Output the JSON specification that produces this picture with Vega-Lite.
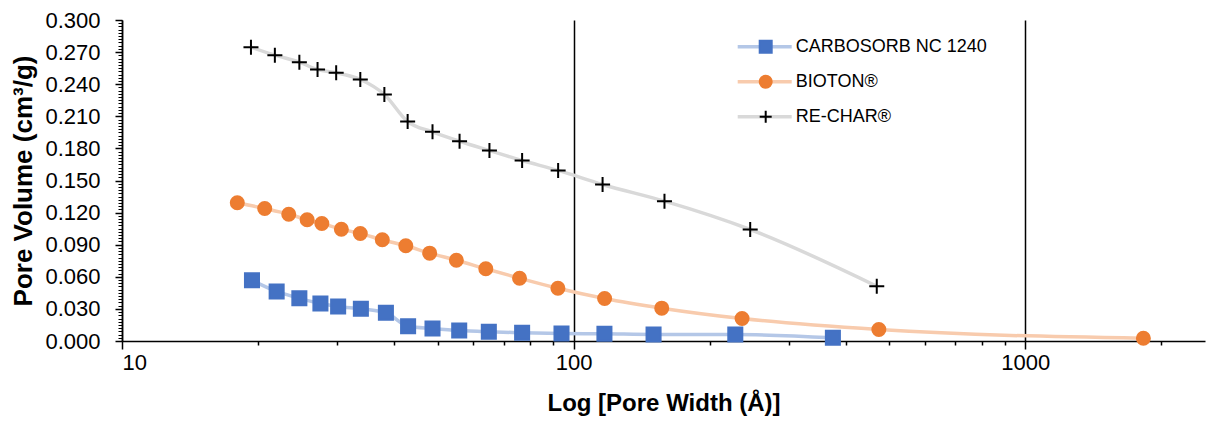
{
  "$schema": "https://vega.github.io/schema/vega-lite/v6.json",
  "width": 1083,
  "height": 321,
  "autosize": {"type": "none"},
  "padding": {"left": 122, "top": 20, "right": 3, "bottom": 80},
  "background": "white",
  "config": {
    "view": {"stroke": null},
    "font": "Liberation Sans",
    "axis": {"labelFont": "Liberation Sans", "titleFont": "Liberation Sans"},
    "legend": {"labelFont": "Liberation Sans"}
  },
  "data": {
    "values": [
      {"series": "CARBOSORB NC 1240", "width": 19.4, "volume": 0.0568},
      {"series": "CARBOSORB NC 1240", "width": 22.0, "volume": 0.0463},
      {"series": "CARBOSORB NC 1240", "width": 24.7, "volume": 0.0400},
      {"series": "CARBOSORB NC 1240", "width": 27.5, "volume": 0.0350},
      {"series": "CARBOSORB NC 1240", "width": 30.1, "volume": 0.0322},
      {"series": "CARBOSORB NC 1240", "width": 33.8, "volume": 0.0301},
      {"series": "CARBOSORB NC 1240", "width": 38.4, "volume": 0.0264},
      {"series": "CARBOSORB NC 1240", "width": 43.0, "volume": 0.0138},
      {"series": "CARBOSORB NC 1240", "width": 48.7, "volume": 0.0117},
      {"series": "CARBOSORB NC 1240", "width": 55.8, "volume": 0.0098},
      {"series": "CARBOSORB NC 1240", "width": 64.9, "volume": 0.0086},
      {"series": "CARBOSORB NC 1240", "width": 76.9, "volume": 0.0077},
      {"series": "CARBOSORB NC 1240", "width": 94.0, "volume": 0.0070},
      {"series": "CARBOSORB NC 1240", "width": 117.0, "volume": 0.0067},
      {"series": "CARBOSORB NC 1240", "width": 150.3, "volume": 0.0061},
      {"series": "CARBOSORB NC 1240", "width": 228, "volume": 0.0061},
      {"series": "CARBOSORB NC 1240", "width": 375, "volume": 0.0030},
      {"series": "BIOTON®", "width": 18.0, "volume": 0.1292},
      {"series": "BIOTON®", "width": 20.7, "volume": 0.1238},
      {"series": "BIOTON®", "width": 23.4, "volume": 0.1185},
      {"series": "BIOTON®", "width": 25.7, "volume": 0.1133},
      {"series": "BIOTON®", "width": 27.7, "volume": 0.1098},
      {"series": "BIOTON®", "width": 30.6, "volume": 0.1045},
      {"series": "BIOTON®", "width": 33.7, "volume": 0.1005},
      {"series": "BIOTON®", "width": 37.7, "volume": 0.0946},
      {"series": "BIOTON®", "width": 42.5, "volume": 0.0890},
      {"series": "BIOTON®", "width": 48.0, "volume": 0.0821},
      {"series": "BIOTON®", "width": 55.0, "volume": 0.0755},
      {"series": "BIOTON®", "width": 63.9, "volume": 0.0675},
      {"series": "BIOTON®", "width": 75.9, "volume": 0.0587},
      {"series": "BIOTON®", "width": 92.3, "volume": 0.0493},
      {"series": "BIOTON®", "width": 117.1, "volume": 0.0397},
      {"series": "BIOTON®", "width": 156.7, "volume": 0.0307},
      {"series": "BIOTON®", "width": 236, "volume": 0.0210},
      {"series": "BIOTON®", "width": 474, "volume": 0.0107},
      {"series": "BIOTON®", "width": 1826, "volume": 0.0026},
      {"series": "RE-CHAR®", "width": 19.3, "volume": 0.2746},
      {"series": "RE-CHAR®", "width": 21.8, "volume": 0.2671},
      {"series": "RE-CHAR®", "width": 24.7, "volume": 0.2606},
      {"series": "RE-CHAR®", "width": 27.1, "volume": 0.2537},
      {"series": "RE-CHAR®", "width": 29.8, "volume": 0.2507},
      {"series": "RE-CHAR®", "width": 33.7, "volume": 0.2444},
      {"series": "RE-CHAR®", "width": 38.1, "volume": 0.2304},
      {"series": "RE-CHAR®", "width": 42.9, "volume": 0.2051},
      {"series": "RE-CHAR®", "width": 48.7, "volume": 0.1955},
      {"series": "RE-CHAR®", "width": 55.9, "volume": 0.1867},
      {"series": "RE-CHAR®", "width": 65.1, "volume": 0.1780},
      {"series": "RE-CHAR®", "width": 76.9, "volume": 0.1687},
      {"series": "RE-CHAR®", "width": 92.4, "volume": 0.1594},
      {"series": "RE-CHAR®", "width": 115.9, "volume": 0.1463},
      {"series": "RE-CHAR®", "width": 158.9, "volume": 0.1307},
      {"series": "RE-CHAR®", "width": 246, "volume": 0.1042},
      {"series": "RE-CHAR®", "width": 469, "volume": 0.0512}
    ]
  },
  "layer": [
    {
      "mark": {"type": "line", "interpolate": "monotone", "strokeWidth": 3.5},
      "encoding": {
        "x": {
          "field": "width", "type": "quantitative",
          "scale": {"type": "log", "domain": [10, 2500], "nice": false},
          "axis": {
            "orient": "bottom", "values": [10, 100, 1000], "format": "d",
            "grid": true, "gridColor": "#000000", "gridWidth": 1.5, "gridOpacity": 1,
            "domainColor": "#000000", "domainWidth": 1.5,
            "tickColor": "#000000", "tickWidth": 1.5, "tickSize": 8,
            "labelFontSize": 22, "labelColor": "#000000", "labelPadding": 3,
            "title": "Log [Pore Width (Å)]", "titleFontSize": 24, "titleFontWeight": "bold",
            "titleColor": "#000000", "titlePadding": 18
          }
        },
        "y": {
          "field": "volume", "type": "quantitative",
          "scale": {"domain": [0, 0.3], "nice": false},
          "axis": {
            "orient": "left", "values": [0, 0.03, 0.06, 0.09, 0.12, 0.15, 0.18, 0.21, 0.24, 0.27, 0.3],
            "format": ".3f", "grid": false,
            "domainColor": "#000000", "domainWidth": 1.5,
            "tickColor": "#000000", "tickWidth": 1.5, "tickSize": 7,
            "labelFontSize": 22, "labelColor": "#000000", "labelPadding": 15,
            "title": "Pore Volume (cm³/g)", "titleFontSize": 26, "titleFontWeight": "bold",
            "titleColor": "#000000", "titlePadding": 8
          }
        },
        "color": {
          "field": "series", "type": "nominal",
          "sort": ["CARBOSORB NC 1240", "BIOTON®", "RE-CHAR®"],
          "scale": {"range": ["#B4C7E7", "#F8CBAD", "#D9D9D9"]},
          "legend": {
            "orient": "none", "legendX": 613.7, "legendY": 17.7, "title": null,
            "labelFontSize": 18, "labelColor": "#000000", "labelOffset": 2, "labelLimit": 400,
            "symbolType": "stroke", "symbolSize": 2916, "symbolStrokeWidth": 3.5,
            "clipHeight": 18, "rowPadding": 17, "padding": 0
          }
        }
      }
    },
    {
      "mark": {"type": "point", "filled": true, "strokeWidth": 2, "opacity": 1},
      "encoding": {
        "x": {
          "field": "width", "type": "quantitative",
          "axis": {
            "orient": "bottom",
            "values": [20, 30, 40, 50, 60, 70, 80, 90, 200, 300, 400, 500, 600, 700, 800, 900, 2000],
            "labels": false, "domain": false, "grid": false,
            "tickColor": "#000000", "tickWidth": 1.5, "tickSize": 4, "title": null
          }
        },
        "y": {
          "field": "volume", "type": "quantitative",
          "axis": {
            "orient": "left",
            "values": [0.003, 0.006, 0.009, 0.012, 0.015, 0.018, 0.021, 0.024, 0.027, 0.033, 0.036, 0.039, 0.042, 0.045, 0.048, 0.051, 0.054, 0.057, 0.063, 0.066, 0.069, 0.072, 0.075, 0.078, 0.081, 0.084, 0.087, 0.093, 0.096, 0.099, 0.102, 0.105, 0.108, 0.111, 0.114, 0.117, 0.123, 0.126, 0.129, 0.132, 0.135, 0.138, 0.141, 0.144, 0.147, 0.153, 0.156, 0.159, 0.162, 0.165, 0.168, 0.171, 0.174, 0.177, 0.183, 0.186, 0.189, 0.192, 0.195, 0.198, 0.201, 0.204, 0.207, 0.213, 0.216, 0.219, 0.222, 0.225, 0.228, 0.231, 0.234, 0.237, 0.243, 0.246, 0.249, 0.252, 0.255, 0.258, 0.261, 0.264, 0.267, 0.273, 0.276, 0.279, 0.282, 0.285, 0.288, 0.291, 0.294, 0.297],
            "labels": false, "domain": false, "grid": false,
            "tickColor": "#000000", "tickWidth": 1, "tickSize": 4, "title": null
          }
        },
        "fill": {
          "field": "series", "type": "nominal",
          "scale": {"domain": ["CARBOSORB NC 1240", "BIOTON®", "RE-CHAR®"], "range": ["#4472C4", "#ED7D31", "#000000"]},
          "legend": {
            "orient": "right", "offset": -466, "title": null,
            "labelFontSize": 18, "labelExpr": "''",
            "symbolSize": 144, "symbolStrokeWidth": 2,
            "clipHeight": 18, "rowPadding": 17, "padding": 17.7
          }
        },
        "stroke": {
          "field": "series", "type": "nominal",
          "scale": {"domain": ["CARBOSORB NC 1240", "BIOTON®", "RE-CHAR®"], "range": ["#4472C4", "#ED7D31", "#000000"]},
          "legend": {
            "orient": "right", "offset": -466, "title": null,
            "labelFontSize": 18, "labelExpr": "''",
            "symbolSize": 144, "symbolStrokeWidth": 2,
            "clipHeight": 18, "rowPadding": 17, "padding": 17.7
          }
        },
        "shape": {
          "field": "series", "type": "nominal",
          "scale": {"domain": ["CARBOSORB NC 1240", "BIOTON®", "RE-CHAR®"], "range": ["square", "circle", "M-1,0L1,0M0,-1L0,1"]},
          "legend": {
            "orient": "right", "offset": -466, "title": null,
            "labelFontSize": 18, "labelExpr": "''",
            "symbolSize": 144, "symbolStrokeWidth": 2,
            "clipHeight": 18, "rowPadding": 17, "padding": 17.7
          }
        },
        "size": {
          "field": "series", "type": "ordinal",
          "scale": {"domain": ["BIOTON®", "CARBOSORB NC 1240", "RE-CHAR®"], "range": [169, 225, 289]},
          "legend": null
        }
      }
    }
  ],
  "resolve": {"axis": {"x": "independent", "y": "independent"}}
}
